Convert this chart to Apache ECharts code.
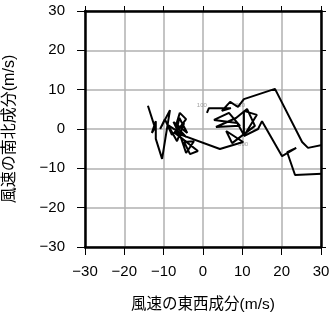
<!DOCTYPE html>
<html>
<head>
<meta charset="utf-8">
<script src="https://cdn.jsdelivr.net/npm/echarts@6/dist/echarts.min.js"></script>
<style>html,body{margin:0;padding:0;background:#fff}#c{width:331px;height:318px}</style>
</head>
<body>
<div id="c"></div>
<script>
// Wind hodograph: east-west component (u) vs north-south component (v), m/s
var uWind = [1.0, 1.5, 7.1, 4.8, 6.9, 8.9, 10.4, 18.3, 25.2, 26.7, 34.9, 34.9, 23.4, 21.4, 23.7, 20.1, 15.0, 14.0, 10.4, 13.7,
  10.4, 10.4, 8.7, 2.8, 6.6, 9.4, 3.3, 8.4, 11.2, 13.2, 7.4, 5.9, 10.2, 4.3, -7.4, -1.3, -3.3, -4.8, -2.3, -4.3,
  -5.5, -7.5, -4.0, -6.0,
  -6.9, -4.3, -5.9, -6.9, -4.3, -8.9, -6.6, -4.8, -7.9, -9.7, -10.9, -8.4, -10.4, -12.0, -12.0, -13.0, -12.2, -14.0];
var vWind = [4.1, 5.3, 5.3, 4.6, 6.9, 5.6, 7.6, 10.2, -3.3, -4.8, -3.1, -11.2, -11.7, -5.9, -4.8, -6.9, 2.0, 0.0, -1.8, 3.6,
  4.6, -1.5, 1.5, 2.3, 4.1, 0.8, 0.5, 2.8, 5.1, 0.8, -3.6, -0.5, -3.3, -5.1, -0.8, -5.6, -6.4, -3.3, -3.1, -6.1,
  -2.5, 1.8, -1.0, 2.8,
  -1.0, 2.5, 4.1, 0.8, -2.0, 1.0, -3.1, 1.5, -1.5, 2.5, 0.0, 4.8, -7.6, -2.5, 2.0, -1.0, 0.3, 5.9];
var levelLabels = ['100', '850', '500'];
var levelU = [-0.3, 9.4, 10.2];
var levelV = [6.1, 6.1, -3.8];
var ticks = [-30, -20, -10, 0, 10, 20, 30];
var xTitle = '風速の東西成分(m/s)';
var yTitle = '風速の南北成分(m/s)';

var FONT = '"Liberation Sans","Noto Sans CJK JP",sans-serif';
var pathData = uWind.map(function (u, i) { return [u, vWind[i]]; });
var labelData = levelLabels.map(function (t, i) { return { value: [levelU[i], levelV[i]], name: t }; });
function fmt(v) { return String(v).replace('-', '\u2212'); }

function mainAxis(pos, name, gap, rot, nameSize) {
  return {
    type: 'value', position: pos, min: ticks[0], max: ticks[ticks.length - 1], interval: 10,
    name: name, nameLocation: 'middle', nameGap: gap, nameRotate: rot,
    nameTextStyle: { fontFamily: FONT, fontSize: nameSize, color: '#000' },
    axisLine: { show: true, onZero: false, lineStyle: { color: '#000', width: 2.5 } },
    axisTick: { show: true, inside: false, length: 8, lineStyle: { color: '#000', width: 1 } },
    axisLabel: { show: true, margin: pos === 'left' ? 20 : 17, fontFamily: FONT, fontSize: 15, color: '#000', formatter: fmt },
    splitLine: { show: true, lineStyle: { color: '#b0b0b0', width: 1.5 } }
  };
}
function mirrorAxis(pos) {
  return {
    type: 'value', position: pos, min: ticks[0], max: ticks[ticks.length - 1], interval: 10,
    axisLine: { show: true, onZero: false, lineStyle: { color: '#000', width: 2.5 } },
    axisTick: { show: true, inside: false, length: 5, lineStyle: { color: '#000', width: 1 } },
    axisLabel: { show: false },
    splitLine: { show: false }
  };
}

var chart = echarts.init(document.getElementById('c'), null, { renderer: 'canvas' });
chart.setOption({
  animation: false,
  backgroundColor: '#fff',
  grid: { left: 85, right: 10, top: 11, bottom: 71, containLabel: false, outerBoundsMode: 'none' },
  xAxis: [mainAxis('bottom', xTitle, 50, 0, 15.5), mirrorAxis('top')],
  yAxis: [mainAxis('left', yTitle, 67, 90, 16), mirrorAxis('right')],
  series: [
    {
      type: 'scatter', data: labelData, symbolSize: 0, silent: true, z: 1,
      label: { show: true, position: 'inside', formatter: '{b}', fontFamily: FONT, fontSize: 6, color: '#888' }
    },
    {
      type: 'line', data: pathData, showSymbol: false, symbol: 'none', clip: true, z: 3,
      lineStyle: { color: '#000', width: 2 }
    }
  ]
});
</script>
</body>
</html>
